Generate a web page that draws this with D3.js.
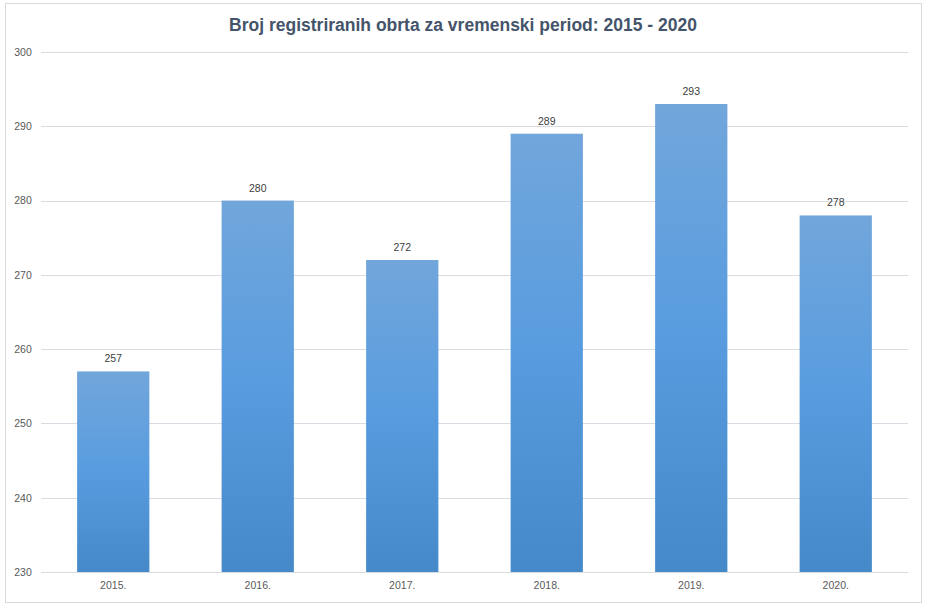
<!DOCTYPE html>
<html>
<head>
<meta charset="utf-8">
<script src="https://cdn.jsdelivr.net/npm/d3@7"></script>
<style>
  body { margin: 0; background: #fff; }
  svg { display: block; }
</style>
</head>
<body>
<svg id="chart"></svg>
<script>
  // data
  const years = ['2015.', '2016.', '2017.', '2018.', '2019.', '2020.'];
  const counts = [257, 280, 272, 289, 293, 278];
  const yTicks = [230, 240, 250, 260, 270, 280, 290, 300];
  const chartTitle = 'Broj registriranih obrta za vremenski period: 2015 - 2020';

  const W = 927, H = 608;
  const margin = {top: 52, right: 19, bottom: 36, left: 41};
  const width = W - margin.left - margin.right;
  const height = H - margin.top - margin.bottom;
  const font = '"Liberation Sans", Arial, sans-serif';

  const svg = d3.select('#chart').attr('width', W).attr('height', H);

  let defs = svg.append('defs');
  let grad = defs.append('linearGradient')
    .attr('id', 'barFill')
    .attr('x1', 0).attr('y1', 0).attr('x2', 0).attr('y2', 1);
  grad.append('stop').attr('offset', '0%').attr('stop-color', '#71a6db');
  grad.append('stop').attr('offset', '50%').attr('stop-color', '#589cdf');
  grad.append('stop').attr('offset', '100%').attr('stop-color', '#4589c9');

  // chart border
  svg.append('rect')
    .attr('x', 5.5).attr('y', 3.5)
    .attr('width', 916).attr('height', 599)
    .attr('fill', '#fff')
    .attr('stroke', '#d9d9d9');

  svg.append('text')
    .attr('x', 463).attr('y', 31)
    .attr('text-anchor', 'middle')
    .attr('font-family', font)
    .attr('font-weight', 'bold')
    .attr('font-size', 17.5)
    .attr('fill', '#44546a')
    .text(chartTitle);

  let g = svg.append('g')
    .attr('transform', 'translate(' + margin.left + ',' + margin.top + ')');

  let x = d3.scaleBand()
    .domain(years)
    .range([0, width])
    .paddingInner(0.5)
    .paddingOuter(0.25);

  let y = d3.scaleLinear()
    .domain([230, 300])
    .range([height, 0]);

  // gridlines
  g.append('g')
    .selectAll('line')
    .data(yTicks)
    .enter().append('line')
    .attr('x1', 0).attr('x2', width)
    .attr('y1', (d) => Math.round(y(d)) + 0.5)
    .attr('y2', (d) => Math.round(y(d)) + 0.5)
    .attr('stroke', '#d9dde3');

  let yAxis = g.append('g')
    .call(d3.axisLeft(y).tickValues(yTicks).tickSize(0).tickPadding(10));
  yAxis.select('.domain').remove();
  yAxis.selectAll('text')
    .attr('font-family', font)
    .attr('font-size', 10.5)
    .attr('fill', '#595959')
    .attr('text-anchor', 'middle')
    .attr('x', -18);

  let xAxis = g.append('g')
    .attr('transform', 'translate(0,' + height + ')')
    .call(d3.axisBottom(x).tickSize(0).tickPadding(10));
  xAxis.select('.domain').remove();
  xAxis.selectAll('text')
    .attr('font-family', font)
    .attr('font-size', 10.5)
    .attr('fill', '#595959');

  g.append('g')
    .selectAll('rect')
    .data(counts)
    .enter().append('rect')
    .attr('x', (d, i) => x(years[i]))
    .attr('y', (d) => y(d))
    .attr('width', x.bandwidth())
    .attr('height', (d) => height - y(d))
    .attr('fill', 'url(#barFill)');

  g.append('g')
    .selectAll('text')
    .data(counts)
    .enter().append('text')
    .attr('x', (d, i) => x(years[i]) + x.bandwidth() / 2)
    .attr('y', (d) => y(d) - 9)
    .attr('text-anchor', 'middle')
    .attr('font-family', font)
    .attr('font-size', 10.5)
    .attr('fill', '#404040')
    .text((d) => d);
</script>
</body>
</html>
